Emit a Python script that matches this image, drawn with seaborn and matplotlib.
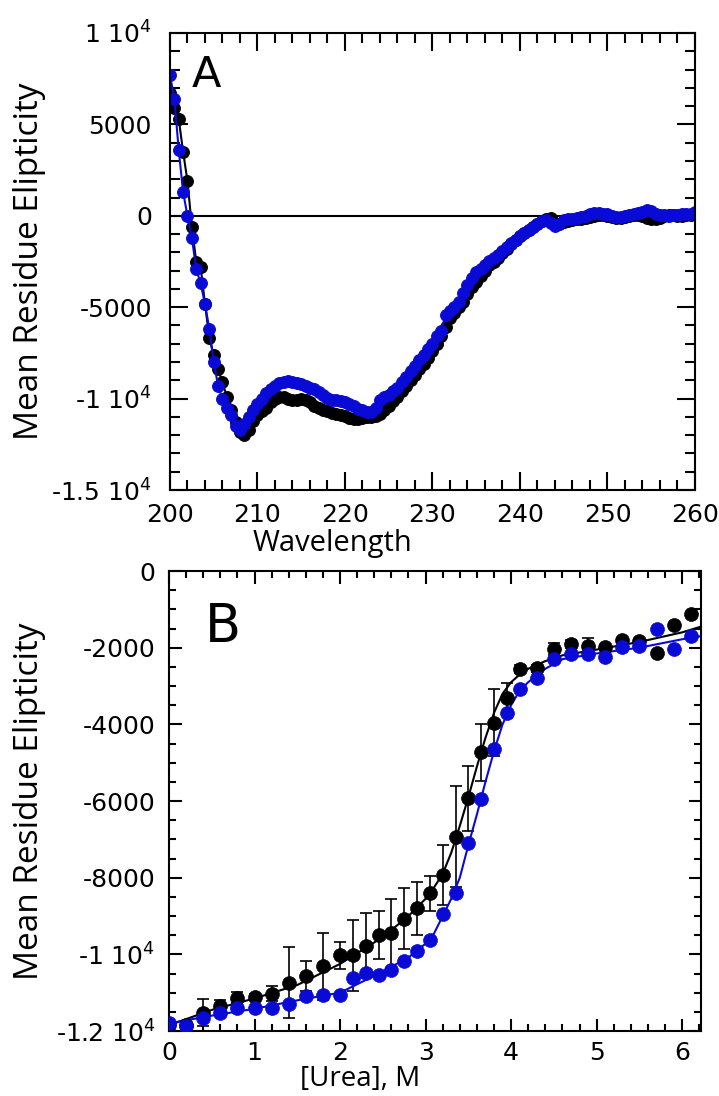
import numpy as np
import matplotlib.pyplot as plt
import seaborn as sns
from matplotlib.ticker import MultipleLocator

# panel A: CD spectra (every 0.5 nm)
wavelength = np.arange(200, 260.5, 0.5)
cd_black = [6700, 5900, 5300, 3500, 1900, -600, -2500, -2800, -4800, -6700,
            -7600, -8400, -9100, -9900, -10600, -11300, -11800, -12000, -11700, -11200,
            -10900, -10700, -10500, -10200, -10000, -9900, -9900, -10000, -10100, -10050,
            -10000, -10100, -10200, -10400, -10500, -10600, -10700, -10800, -10850, -10900,
            -10950, -11050, -11100, -11100, -11050, -11000, -11000, -10950, -10850, -10600,
            -10400, -10150, -9900, -9600, -9300, -9000, -8700, -8400, -8100, -7800,
            -7400, -7000, -6600, -6100, -5600, -5300, -5000, -4700, -4300, -3900,
            -3600, -3300, -3000, -2700, -2500, -2300, -2050, -1800, -1550, -1300,
            -1100, -950, -800, -600, -450, -300, -150, -100, -400, -450,
            -350, -300, -250, -200, -150, -100, -50, 0, 50, 50,
            0, -50, -100, -100, -50, 0, 50, 50, 0, -100,
            -200, -200, -100, 0, 50, 50, 0, 0, 50, 50, 150]
cd_blue = [7700, 6400, 3600, 1300, 0, -1200, -2900, -3700, -4800, -6200,
           -8000, -9300, -10000, -10500, -10900, -11500, -11700, -11400, -11000, -10600,
           -10300, -10000, -9700, -9500, -9300, -9150, -9100, -9050, -9100, -9150,
           -9200, -9300, -9400, -9500, -9650, -9800, -9950, -10050, -10100, -10150,
           -10200, -10300, -10400, -10550, -10650, -10750, -10750, -10500, -10100, -9900,
           -9800, -9600, -9400, -9100, -8800, -8500, -8200, -7900, -7600, -7300,
           -7000, -6600, -6300, -5400, -5200, -5000, -4700, -4200, -3800, -3400,
           -3100, -2900, -2700, -2450, -2300, -2150, -1900, -1700, -1500, -1300,
           -1100, -950, -800, -600, -450, -300, -250, -400, -550, -450,
           -250, -200, -150, -100, -50, 0, 100, 150, 150, 100,
           100, 0, -50, -50, 0, 50, 100, 150, 200, 300,
           250, 100, 50, 50, 0, 50, 50, 100, 100, 100, 200]

# panel B: urea denaturation
urea = [0, 0.2, 0.4, 0.6, 0.8, 1.0, 1.2, 1.4, 1.6, 1.8, 2.0, 2.15, 2.3, 2.45, 2.6,
        2.75, 2.9, 3.05, 3.2, 3.35, 3.5, 3.65, 3.8, 3.95, 4.1, 4.3, 4.5, 4.7, 4.9,
        5.1, 5.3, 5.5, 5.7, 5.9, 6.1]
urea_black = [-11850, -11850, -11520, -11350, -11130, -11110, -11030, -10740, -10570,
              -10310, -10030, -10030, -9770, -9490, -9450, -9070, -8800, -8410, -7930,
              -6930, -5930, -4730, -3960, -3320, -2560, -2540, -2040, -1900, -1960,
              -1990, -1800, -1820, -2130, -1410, -1120]
urea_black_err = [0, 0, 350, 150, 150, 80, 200, 930, 390, 870, 350, 920, 850, 620, 900,
                  800, 700, 450, 780, 1320, 840, 740, 870, 410, 100, 100, 150, 100, 200,
                  50, 50, 50, 50, 50, 50]
urea_blue = [-11790, -11870, -11670, -11520, -11390, -11390, -11390, -11300, -11090,
             -11050, -11050, -10610, -10480, -10530, -10400, -10180, -9920, -9620, -8950,
             -8390, -7100, -5960, -4650, -3710, -3090, -2800, -2300, -2170, -2170,
             -2250, -1990, -1950, -1500, -2040, -1700]

fit_urea = [0, 0.5, 1.0, 1.5, 2.0, 2.5, 2.8, 3.0, 3.1, 3.2, 3.3, 3.4, 3.5, 3.6, 3.7,
            3.8, 3.9, 4.0, 4.1, 4.2, 4.4, 4.6, 5.0, 5.5, 6.0, 6.22]
fit_black = [-11850, -11450, -11150, -10800, -10250, -9550, -9000, -8550, -8250, -7900,
             -7350, -6650, -5900, -5100, -4350, -3700, -3200, -2900, -2700, -2550,
             -2350, -2200, -2050, -1850, -1600, -1450]
fit_blue = [-11800, -11600, -11420, -11200, -11000, -10450, -10080, -9720, -9450, -9000,
            -8550, -8000, -7150, -6350, -5500, -4700, -4000, -3500, -3120, -2900,
            -2550, -2300, -2150, -2000, -1780, -1700]

BLUE = '#0a0ad6'

sns.set_style('ticks')
plt.rcParams['font.family'] = ['DejaVu Sans']
plt.rcParams['mathtext.default'] = 'regular'
plt.rcParams['axes.linewidth'] = 1.5
for key in ['text.color', 'axes.labelcolor', 'xtick.color', 'ytick.color',
            'axes.edgecolor']:
    plt.rcParams[key] = 'black'

fig = plt.figure(figsize=(7.19, 10.96), dpi=100)
axA = fig.add_axes([0.2364, 0.5529, 0.7302, 0.417])
axB = fig.add_axes([0.2350, 0.0593, 0.7400, 0.4197])

# ---- panel A ----
axA.axhline(0, color='black', lw=1.5, zorder=1)
sns.lineplot(x=wavelength, y=cd_black, color='black', marker='o', markersize=8.5,
             markeredgecolor='black', linewidth=1.5, errorbar=None, ax=axA)
sns.lineplot(x=wavelength, y=cd_blue, color=BLUE, marker='o', markersize=8.5,
             markeredgecolor=BLUE, linewidth=1.5, errorbar=None, ax=axA)
axA.set_xlim(200, 260)
axA.set_ylim(-15000, 10000)
axA.set_xticks(range(200, 261, 10))
axA.set_yticks([-15000, -10000, -5000, 0, 5000, 10000])
axA.set_yticklabels(['-1.5 10$^4$', '-1 10$^4$', '-5000', '0', '5000', '1 10$^4$'])
axA.xaxis.set_minor_locator(MultipleLocator(2))
axA.yaxis.set_minor_locator(MultipleLocator(1000))
axA.tick_params(which='both', direction='in', top=True, right=True, width=1.5,
                labelsize=18)
axA.tick_params(which='major', length=13, pad=13)
axA.tick_params(axis='x', which='major', pad=9)
axA.tick_params(which='minor', length=7)
axA.set_xlabel('Wavelength', family='Open Sans', fontsize=21)
axA.xaxis.set_label_coords(0.31, -0.085)
axA.set_ylabel('Mean Residue Elipticity', family='Open Sans', fontsize=24)
axA.yaxis.set_label_coords(-0.236, 0.5)
axA.text(0.042, 0.955, 'A', transform=axA.transAxes, fontsize=31,
         ha='left', va='top')

# ---- panel B ----
axB.errorbar(urea, urea_black, yerr=urea_black_err, fmt='none', ecolor='black',
             elinewidth=1.2, capsize=4, capthick=1.2, zorder=2)
sns.lineplot(x=fit_urea, y=fit_black, color='black', linewidth=1.5,
             errorbar=None, ax=axB)
sns.lineplot(x=fit_urea, y=fit_blue, color=BLUE, linewidth=1.5,
             errorbar=None, ax=axB)
sns.scatterplot(x=urea, y=urea_black, color='black', s=100, edgecolor='black',
                linewidth=0.5, zorder=3, ax=axB)
sns.scatterplot(x=urea, y=urea_blue, color=BLUE, s=100, edgecolor=BLUE,
                linewidth=0.5, zorder=4, ax=axB)
axB.set_xlim(0, 6.22)
axB.set_ylim(-12000, 0)
axB.set_xticks(range(0, 7))
axB.set_yticks(range(-12000, 1, 2000))
axB.set_yticklabels(['-1.2 10$^4$', '-1 10$^4$', '-8000', '-6000', '-4000',
                     '-2000', '0'])
axB.xaxis.set_minor_locator(MultipleLocator(0.2))
axB.yaxis.set_minor_locator(MultipleLocator(500))
axB.tick_params(which='both', direction='in', top=True, right=True, width=1.5,
                labelsize=18)
axB.tick_params(which='major', length=9, pad=10)
axB.tick_params(axis='x', which='major', pad=7)
axB.tick_params(which='minor', length=5)
axB.set_xlabel('[Urea], M', family='Open Sans', fontsize=20)
axB.xaxis.set_label_coords(0.36, -0.074)
axB.set_ylabel('Mean Residue Elipticity', family='Open Sans', fontsize=24)
axB.yaxis.set_label_coords(-0.232, 0.5)
axB.text(0.068, 0.935, 'B', transform=axB.transAxes, fontsize=38,
         ha='left', va='top')

fig.savefig('out.png', dpi=100)
